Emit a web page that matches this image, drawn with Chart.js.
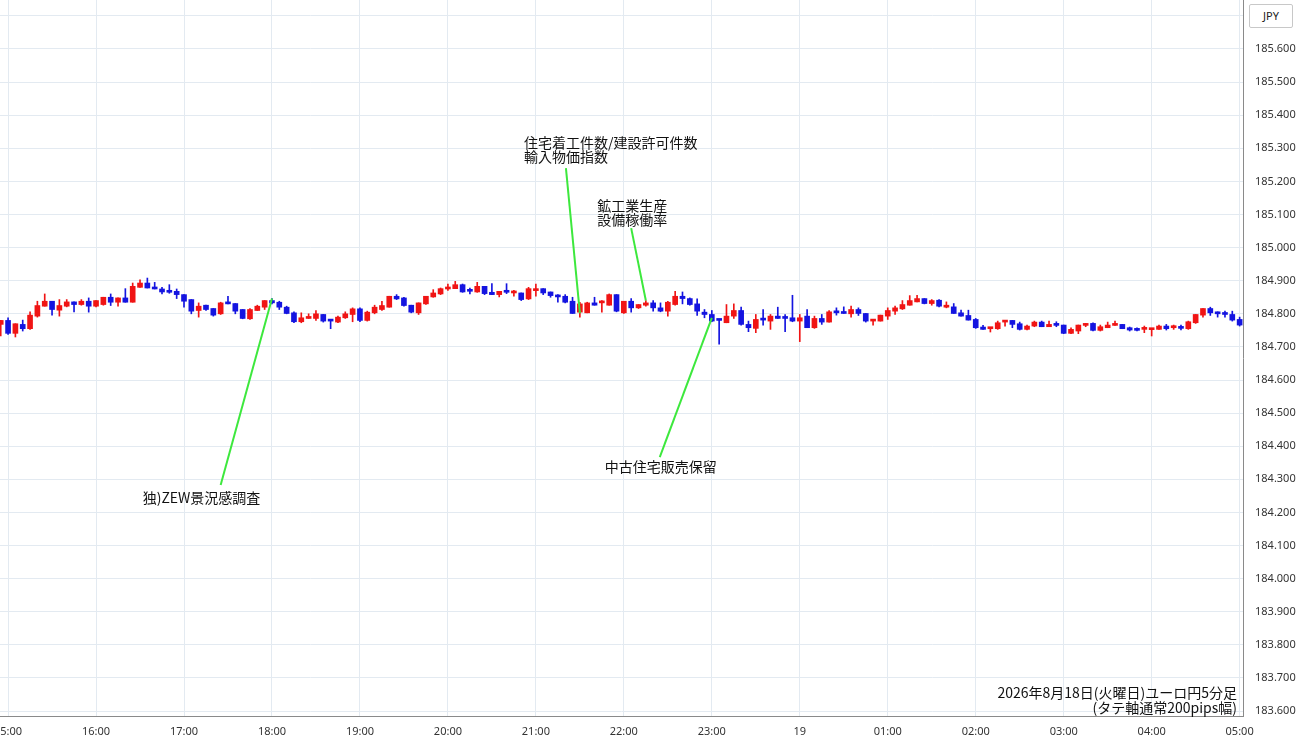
<!DOCTYPE html>
<html lang="ja">
<head>
<meta charset="utf-8">
<title>ユーロ円5分足</title>
<script src="https://cdn.jsdelivr.net/npm/chart.js@4.4.1/dist/chart.umd.min.js"></script>
<style>
  html, body { margin: 0; padding: 0; background: #fff; }
  #wrap { position: relative; width: 1300px; height: 745px; }
  #ccy {
    position: absolute; left: 1249px; top: 4px; width: 42px; height: 22px;
    border: 1px solid #c8c8c8; border-radius: 2px; background: #fff;
    font: 11px "Noto Sans", sans-serif; color: #222; text-align: center; line-height: 22px;
  }
  #title {
    position: absolute; right: 63px; top: 685px;
    font: 14px "Noto Sans CJK JP", sans-serif; color: #111; text-align: right; line-height: 15px;
  }
</style>
</head>
<body>
<div id="wrap">
  <canvas id="chart"></canvas>
  <div id="ccy">JPY</div>
  <div id="title">2026年8月18日(火曜日)ユーロ円5分足<br>(タテ軸通常200pips幅)</div>
</div>
<script>
// 5分足 ユーロ円 (14:55 から 05:00 まで)
const startTime = '14:55';
const stepMinutes = 5;
const hourLabels = ['15:00', '16:00', '17:00', '18:00', '19:00', '20:00', '21:00', '22:00',
  '23:00', '19', '01:00', '02:00', '03:00', '04:00', '05:00'];
const priceTicks = [183.6, 183.7, 183.8, 183.9, 184.0, 184.1, 184.2, 184.3, 184.4, 184.5, 184.6,
  184.7, 184.8, 184.9, 185.0, 185.1, 185.2, 185.3, 185.4, 185.5, 185.6, 185.7];

const opens = [
  184.768, 184.780, 184.741, 184.768, 184.755, 184.793, 184.823, 184.838, 184.811, 184.823,
  184.836, 184.828, 184.838, 184.823, 184.828, 184.850, 184.835, 184.848, 184.835, 184.880,
  184.893, 184.878, 184.875, 184.870, 184.868, 184.858, 184.843, 184.810, 184.826, 184.816,
  184.800, 184.836, 184.831, 184.813, 184.785, 184.810, 184.820, 184.840, 184.835, 184.820,
  184.803, 184.776, 184.786, 184.786, 184.798, 184.781, 184.775, 184.788, 184.798, 184.815,
  184.780, 184.803, 184.813, 184.820, 184.853, 184.848, 184.826, 184.803, 184.830, 184.851,
  184.860, 184.875, 184.876, 184.888, 184.870, 184.866, 184.883, 184.865, 184.858, 184.866,
  184.863, 184.863, 184.845, 184.870, 184.876, 184.866, 184.853, 184.853, 184.838, 184.805,
  184.803, 184.833, 184.833, 184.826, 184.858, 184.803, 184.838, 184.818, 184.826, 184.833,
  184.818, 184.808, 184.828, 184.853, 184.846, 184.830, 184.805, 184.798, 184.781, 184.773,
  184.793, 184.810, 184.768, 184.756, 184.783, 184.778, 184.793, 184.788, 184.788, 184.778,
  184.793, 184.758, 184.786, 184.775, 184.806, 184.805, 184.800, 184.813, 184.801, 184.778,
  184.778, 184.793, 184.808, 184.815, 184.826, 184.836, 184.846, 184.831, 184.841, 184.820,
  184.821, 184.803, 184.795, 184.783, 184.760, 184.755, 184.755, 184.775, 184.780, 184.770,
  184.753, 184.763, 184.775, 184.761, 184.768, 184.766, 184.741, 184.748, 184.765, 184.771,
  184.750, 184.758, 184.765, 184.768, 184.758, 184.753, 184.753, 184.752, 184.753, 184.763,
  184.758, 184.760, 184.755, 184.773, 184.796, 184.816, 184.806, 184.801, 184.798, 184.783
];
const highs = [
  184.780, 184.788, 184.770, 184.781, 184.806, 184.838, 184.860, 184.838, 184.843, 184.843,
  184.836, 184.843, 184.848, 184.840, 184.850, 184.860, 184.848, 184.876, 184.893, 184.903,
  184.908, 184.895, 184.880, 184.888, 184.875, 184.858, 184.843, 184.833, 184.826, 184.816,
  184.835, 184.853, 184.831, 184.813, 184.816, 184.826, 184.840, 184.846, 184.838, 184.823,
  184.806, 184.803, 184.800, 184.810, 184.798, 184.781, 184.793, 184.806, 184.818, 184.818,
  184.808, 184.826, 184.838, 184.853, 184.858, 184.850, 184.826, 184.833, 184.853, 184.873,
  184.878, 184.890, 184.898, 184.890, 184.878, 184.895, 184.883, 184.891, 184.868, 184.891,
  184.871, 184.863, 184.880, 184.890, 184.876, 184.866, 184.858, 184.858, 184.850, 184.835,
  184.835, 184.850, 184.840, 184.860, 184.858, 184.838, 184.846, 184.828, 184.840, 184.840,
  184.833, 184.838, 184.868, 184.866, 184.848, 184.845, 184.813, 184.810, 184.781, 184.828,
  184.830, 184.820, 184.778, 184.798, 184.813, 184.798, 184.820, 184.798, 184.856, 184.798,
  184.813, 184.793, 184.798, 184.810, 184.818, 184.821, 184.823, 184.818, 184.801, 184.781,
  184.796, 184.818, 184.823, 184.840, 184.855, 184.856, 184.846, 184.843, 184.843, 184.836,
  184.831, 184.811, 184.811, 184.786, 184.765, 184.758, 184.778, 184.780, 184.780, 184.775,
  184.766, 184.778, 184.778, 184.778, 184.776, 184.766, 184.758, 184.766, 184.771, 184.773,
  184.766, 184.775, 184.778, 184.768, 184.760, 184.758, 184.763, 184.755, 184.766, 184.768,
  184.766, 184.766, 184.778, 184.798, 184.816, 184.820, 184.806, 184.808, 184.808, 184.790
];
const lows = [
  184.733, 184.738, 184.730, 184.748, 184.753, 184.790, 184.823, 184.796, 184.793, 184.821,
  184.806, 184.826, 184.805, 184.821, 184.826, 184.825, 184.823, 184.835, 184.835, 184.880,
  184.878, 184.875, 184.860, 184.862, 184.846, 184.820, 184.800, 184.790, 184.810, 184.793,
  184.798, 184.830, 184.800, 184.785, 184.783, 184.810, 184.813, 184.830, 184.813, 184.800,
  184.773, 184.773, 184.786, 184.780, 184.775, 184.755, 184.773, 184.786, 184.776, 184.776,
  184.778, 184.800, 184.810, 184.820, 184.843, 184.823, 184.803, 184.798, 184.828, 184.850,
  184.858, 184.871, 184.876, 184.865, 184.860, 184.865, 184.858, 184.858, 184.851, 184.861,
  184.853, 184.840, 184.843, 184.853, 184.858, 184.850, 184.835, 184.833, 184.801, 184.790,
  184.803, 184.826, 184.805, 184.826, 184.806, 184.801, 184.805, 184.816, 184.823, 184.808,
  184.806, 184.793, 184.826, 184.830, 184.826, 184.795, 184.788, 184.776, 184.708, 184.773,
  184.786, 184.766, 184.746, 184.743, 184.766, 184.753, 184.786, 184.746, 184.776, 184.716,
  184.758, 184.756, 184.768, 184.775, 184.796, 184.801, 184.790, 184.795, 184.775, 184.766,
  184.778, 184.783, 184.798, 184.813, 184.826, 184.836, 184.830, 184.826, 184.821, 184.818,
  184.801, 184.793, 184.781, 184.756, 184.753, 184.745, 184.753, 184.763, 184.758, 184.751,
  184.751, 184.761, 184.761, 184.761, 184.761, 184.740, 184.740, 184.740, 184.761, 184.748,
  184.748, 184.758, 184.765, 184.755, 184.748, 184.748, 184.743, 184.733, 184.753, 184.751,
  184.753, 184.751, 184.753, 184.771, 184.790, 184.795, 184.790, 184.790, 184.778, 184.763
];
const closes = [
  184.780, 184.741, 184.770, 184.755, 184.796, 184.825, 184.838, 184.813, 184.825, 184.836,
  184.828, 184.838, 184.823, 184.840, 184.850, 184.835, 184.848, 184.835, 184.883, 184.893,
  184.878, 184.875, 184.866, 184.865, 184.858, 184.838, 184.808, 184.823, 184.813, 184.796,
  184.833, 184.830, 184.808, 184.786, 184.813, 184.823, 184.840, 184.833, 184.820, 184.801,
  184.776, 184.788, 184.788, 184.800, 184.778, 184.778, 184.790, 184.800, 184.815, 184.780,
  184.805, 184.820, 184.825, 184.853, 184.845, 184.825, 184.805, 184.833, 184.853, 184.863,
  184.876, 184.880, 184.888, 184.866, 184.868, 184.883, 184.861, 184.858, 184.868, 184.865,
  184.865, 184.843, 184.876, 184.873, 184.863, 184.855, 184.851, 184.835, 184.801, 184.830,
  184.833, 184.826, 184.835, 184.858, 184.808, 184.838, 184.818, 184.828, 184.833, 184.818,
  184.808, 184.835, 184.853, 184.846, 184.828, 184.808, 184.798, 184.778, 184.780, 184.793,
  184.810, 184.768, 184.758, 184.783, 184.781, 184.793, 184.786, 184.786, 184.778, 184.788,
  184.758, 184.786, 184.775, 184.806, 184.803, 184.801, 184.813, 184.801, 184.778, 184.781,
  184.796, 184.810, 184.818, 184.828, 184.840, 184.846, 184.831, 184.840, 184.823, 184.823,
  184.801, 184.793, 184.781, 184.758, 184.753, 184.758, 184.773, 184.780, 184.768, 184.753,
  184.763, 184.775, 184.761, 184.768, 184.765, 184.741, 184.753, 184.766, 184.771, 184.750,
  184.761, 184.766, 184.768, 184.755, 184.751, 184.750, 184.756, 184.755, 184.763, 184.755,
  184.760, 184.756, 184.776, 184.798, 184.816, 184.803, 184.800, 184.798, 184.781, 184.766
];

// 経済指標 (ローソク足の時刻と価格 → ラベル側の端)
const events = [
  {lines: ['独)ZEW景況感調査'], time: '18:00', price: 184.846, labelAt: [145, 184.283], dx: -78, dy: 13},
  {lines: ['住宅着工件数/建設許可件数', '輸入物価指数'], time: '21:30', price: 184.802, labelAt: [380.5, 185.240], dx: -42, dy: -25},
  {lines: ['鉱工業生産', '設備稼働率'], time: '22:15', price: 184.840, labelAt: [425, 185.059], dx: -34, dy: -22},
  {lines: ['中古住宅販売保留'], time: '23:00', price: 184.788, labelAt: [444.5, 184.367], dx: -55, dy: 10}
];

const UP = '#f01414';
const DOWN = '#1414e0';

// minutes from 15:00
function minutesOf(hhmm) {
  let [h, m] = hhmm.split(':').map(Number);
  return ((h * 60 + m) - 900 + 1440) % 1440;
}

let t0 = minutesOf(startTime) - 1440;
let times = opens.map((_, i) => t0 + i * stepMinutes);
let colors = opens.map((o, i) => closes[i] >= o ? UP : DOWN);

const eventPlugin = {
  id: 'events',
  afterDatasetsDraw(chart) {
    const {ctx, scales: {x, y}} = chart;
    ctx.save();
    events.forEach(ev => {
      let x1 = x.getPixelForValue(minutesOf(ev.time));
      let y1 = y.getPixelForValue(ev.price);
      let x2 = x.getPixelForValue(ev.labelAt[0]);
      let y2 = y.getPixelForValue(ev.labelAt[1]);
      ctx.strokeStyle = '#3de83d';
      ctx.lineWidth = 2;
      ctx.beginPath();
      ctx.moveTo(x1, y1);
      ctx.lineTo(x2, y2);
      ctx.stroke();
      ctx.fillStyle = '#111';
      ctx.font = '14px "Noto Sans CJK JP"';
      ctx.textAlign = 'left';
      ctx.textBaseline = 'middle';
      ev.lines.forEach((s, k) => ctx.fillText(s, x2 + ev.dx, y2 + ev.dy + k * 14));
    });
    ctx.restore();
  }
};

const gridColor = '#e3eaf1';
const tickFont = {family: '"Noto Sans", sans-serif', size: 11};

function noPadding(s) {
  s.paddingLeft = 0;
  s.paddingRight = 0;
  s.paddingTop = 0;
  s.paddingBottom = 0;
}

new Chart(document.getElementById('chart'), {
  type: 'bar',
  data: {
    datasets: [
      {
        label: 'wick',
        data: times.map((t, i) => ({x: t, y: [lows[i], highs[i]]})),
        backgroundColor: colors,
        barThickness: 1,
        grouped: false,
        order: 2
      },
      {
        label: 'body',
        data: times.map((t, i) => ({x: t, y: [opens[i], closes[i]]})),
        backgroundColor: colors,
        barThickness: 5,
        minBarLength: 2,
        grouped: false,
        order: 1
      }
    ]
  },
  options: {
    responsive: true,
    maintainAspectRatio: false,
    animation: false,
    layout: {padding: 0, autoPadding: false},
    plugins: {legend: {display: false}, tooltip: {enabled: false}},
    scales: {
      x: {
        type: 'linear',
        min: -5.5,
        max: 842.3,
        offset: false,
        grid: {color: gridColor, drawTicks: false, offset: false},
        border: {color: '#8a8a8a'},
        ticks: {
          padding: 9,
          color: '#333',
          font: tickFont,
          maxRotation: 0,
          autoSkip: false,
          callback: v => hourLabels[Math.round(v / 60)] ?? ''
        },
        afterBuildTicks: s => { s.ticks = hourLabels.map((_, k) => ({value: k * 60})); },
        afterFit: s => { s.height = 29; noPadding(s); }
      },
      y: {
        type: 'linear',
        position: 'right',
        min: 183.585,
        max: 185.748,
        grid: {color: gridColor, drawTicks: false},
        border: {color: '#8a8a8a'},
        ticks: {
          padding: 12,
          color: '#333',
          font: tickFont,
          callback: v => v > 185.65 ? '' : Number(v).toFixed(3)
        },
        afterBuildTicks: s => { s.ticks = priceTicks.map(v => ({value: v})); },
        afterFit: s => { s.width = 57; noPadding(s); }
      }
    }
  },
  plugins: [eventPlugin]
});
</script>
</body>
</html>
